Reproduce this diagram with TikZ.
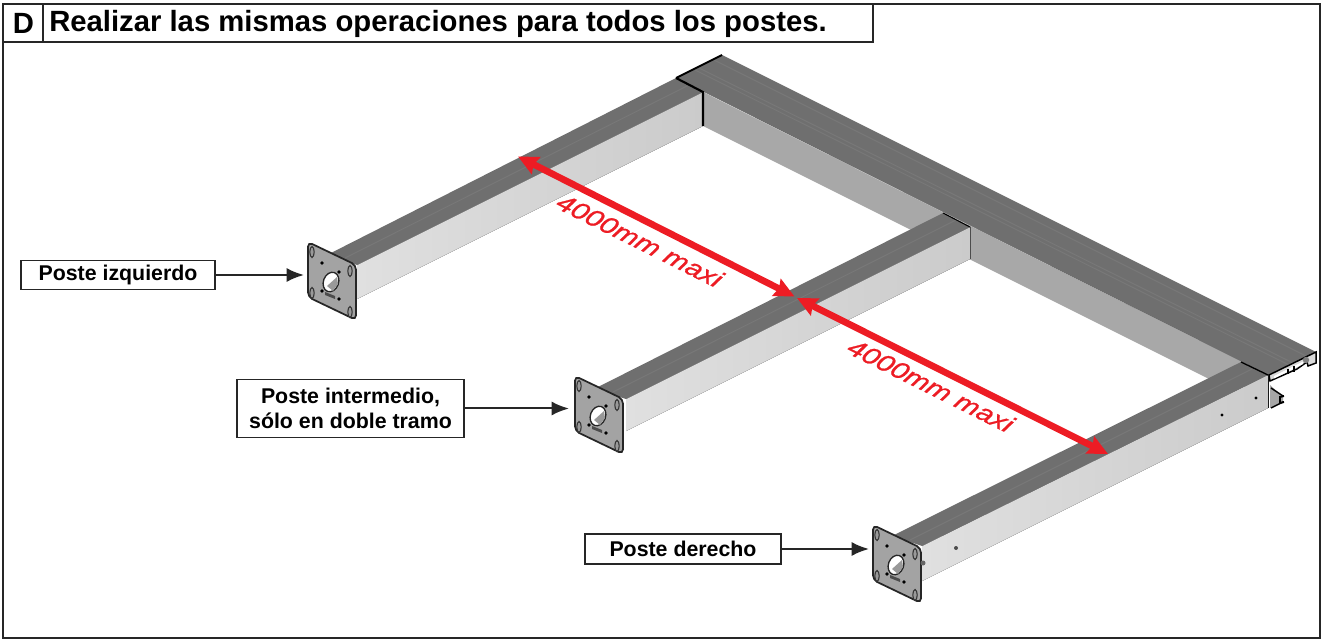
\documentclass[tikz,border=0pt]{standalone}
\usepackage{fontspec}
\setmainfont{Liberation Sans}
\newfontfamily\dimfont[FakeStretch=1.2,FakeBold=1,FakeSlant=0.12]{Liberation Sans Italic}
\usetikzlibrary{arrows.meta}
\definecolor{topgray}{HTML}{6F6F6F}
\definecolor{stripegray}{HTML}{787878}
\definecolor{beamside}{HTML}{A8A8A8}
\definecolor{postnear}{HTML}{E0E0E0}
\definecolor{postfar}{HTML}{CBCBCB}
\definecolor{plategray}{HTML}{A3A3A3}
\definecolor{arrowred}{HTML}{ED1C24}
\tikzset{
  frameline/.style={draw=black!85,line width=1.7pt},
  labelbox/.style={draw=black!85,line width=1.3pt,fill=white,align=center,font=\fontsize{16}{18.5}\selectfont\bfseries,inner sep=0pt,anchor=center},
  pointer/.style={draw=black!85,line width=1.5pt,-{Latex[length=13pt,width=10.5pt]}},
  redarrow/.style={draw=arrowred,line width=5pt,{Stealth[length=15pt,width=14pt,inset=2pt]}-{Stealth[length=15pt,width=14pt,inset=2pt]}},
  redlabel/.style={text=arrowred,font=\fontsize{18}{19}\dimfont,rotate=-26.6,inner sep=0pt},
  topface/.style={fill=topgray,draw=none},
  postface/.style={left color=postnear,right color=postfar,draw=none},
  stripe/.style={draw=stripegray,line width=.7pt},
  slot/.style={draw=black!80,line width=.8pt,fill=black!40},
  plate/.pic={
    \draw[fill=plategray,draw=black!85,line width=1.3pt,rounded corners=3.5pt]
      (0,0) -- (48,23) -- (48,78) -- (0,55) -- cycle;
    \draw[slot] (4,10) ellipse (2.2 and 5.5);
    \draw[slot] (42,29) ellipse (2.2 and 5.5);
    \draw[slot] (4,51) ellipse (2.2 and 5.5);
    \draw[slot] (42,70) ellipse (2.2 and 5.5);
    \fill[black] (14,21) circle (1.9);
    \fill[black] (31,30) circle (1.9);
    \fill[black] (14,49) circle (1.9);
    \fill[black] (31,57) circle (1.9);
    \draw[fill=white,draw=black!85,line width=1pt,rotate around={-20:(23,40)}] (23,40) ellipse (7.6 and 10);
    \fill[black!40] (19,44) -- (29,35) -- (30,42) -- (25,49) -- cycle;
    \fill[black!70] (17,50) -- (27,54) -- (27,57) -- (17,53) -- cycle;
  }
}
\begin{document}
\begin{tikzpicture}[x=0.75pt,y=-0.75pt]
\useasboundingbox (0,0) rectangle (1324,641);
\fill[white] (0,0) rectangle (1324,641);
% lower channel of the profile
\fill[black!35] (1270,385) -- (1283,397) -- (1283,402) -- (1270,408) -- cycle;
\draw[black,line width=1.1pt] (1271,388) -- (1283,396) (1283,402) -- (1271,408);
\draw[black,line width=1.4pt] (1284,396) -- (1280,397) -- (1280,403) -- (1284,402);
% beam side
\fill[beamside] (703,92) -- (1268,375) -- (1268,408) -- (1207,378) -- (703,126) -- cycle;
% beam top
\fill[topface] (676,78) -- (722,55) -- (1316,352) -- (1268,375) -- cycle;
\draw[stripe] (695,70) -- (1289,365) (699,68) -- (1293,363) (714,60) -- (1308,357);
% end of the beam
\draw[black,fill=black!15,line width=1.1pt] (1269,375) -- (1316,352) -- (1316,363) -- (1308,366) -- (1307,362) -- (1297,369) -- (1270,381) -- cycle;
\fill[white] (1274,376) -- (1303,361.5) -- (1303,364) -- (1274,378.5) -- cycle;
\fill[black!50] (1306,360) circle (3.2);
\draw[black,line width=1pt] (1294,366) -- (1294,372) (1288,369) -- (1288,374);
\draw[black,line width=1.4pt] (1268,375) -- (1268,408);
% left post
\fill[postface] (703,92) -- (703,126) -- (357,299) -- (357,265) -- cycle;
\fill[topface] (676,78) -- (703,92) -- (357,265) -- (327,255) -- cycle;
\draw[stripe] (689,85) -- (345,258);
% mid post
\fill[postface] (970,227) -- (970,259) -- (626,431) -- (626,399) -- cycle;
\fill[topface] (943,213) -- (970,227) -- (626,399) -- (594,389) -- cycle;
\draw[stripe] (956,220) -- (613,392);
% right post
\fill[postface] (1268,375) -- (1268,408) -- (922,581) -- (922,546) -- cycle;
\fill[topface] (1241,362) -- (1268,375) -- (922,546) -- (892,536) -- cycle;
\draw[stripe] (1254,368) -- (910,540);
% joints
\draw[black,line width=1.5pt] (676,78) -- (722,55);
\draw[black,line width=1.6pt] (676,78) -- (703,92) -- (703,126);
\draw[black,line width=.8pt] (943,213) -- (970,227);
\draw[black!70,line width=.6pt] (970,227) -- (970,259);
\draw[black,line width=1pt] (1241,362) -- (1268,375);
\fill[black] (1256,398) circle (1.6) (1222,415) circle (1.6);
\fill[black!70] (956,548) circle (2);
% plates
\path (308,242) pic {plate};
\path (575,376) pic {plate};
\path (873,525) pic {plate};
\fill[black!60] (923,563) circle (2.5);
% frame and title
\draw[frameline] (3,4) rectangle (1320,638);
\draw[frameline] (3,42) -- (873,42) -- (873,4);
\draw[frameline] (43,4) -- (43,42);
\node[font=\fontsize{21.95}{24}\selectfont\bfseries,anchor=center] (letter) at (23.5,23.5) {D};
\node[font=\fontsize{21.95}{24}\selectfont\bfseries,anchor=west,inner sep=0pt] (title) at (49,23.5) {Realizar las mismas operaciones para todos los postes.};
% labels
\node[labelbox,minimum width=145.5pt,minimum height=21.75pt] (izq) at (118,275) {Poste izquierdo};
\node[labelbox,minimum width=170pt,minimum height=43.5pt] (inter) at (350.5,408.5) {Poste intermedio,\\sólo en doble tramo};
\node[labelbox,minimum width=147pt,minimum height=22.5pt] (der) at (683,549) {Poste derecho};
\coordinate (pizq) at (304,275);
\coordinate (pinter) at (569,408.5);
\coordinate (pder) at (869,549);
\draw[pointer] (izq.east) -- (pizq);
\draw[pointer] (inter.east) -- (pinter);
\draw[pointer] (der.east) -- (pder);
% dimensions
\coordinate (d1) at (518,156.5);
\coordinate (d2a) at (794.5,296.5);
\coordinate (d2b) at (797,298);
\coordinate (d3) at (1108,454);
\draw[redarrow] (d1) -- (d2a);
\draw[redarrow] (d2b) -- (d3);
\node[redlabel] (m1) at (639,240) {4000mm maxi};
\node[redlabel] (m2) at (930,385) {4000mm maxi};
\end{tikzpicture}
\end{document}
